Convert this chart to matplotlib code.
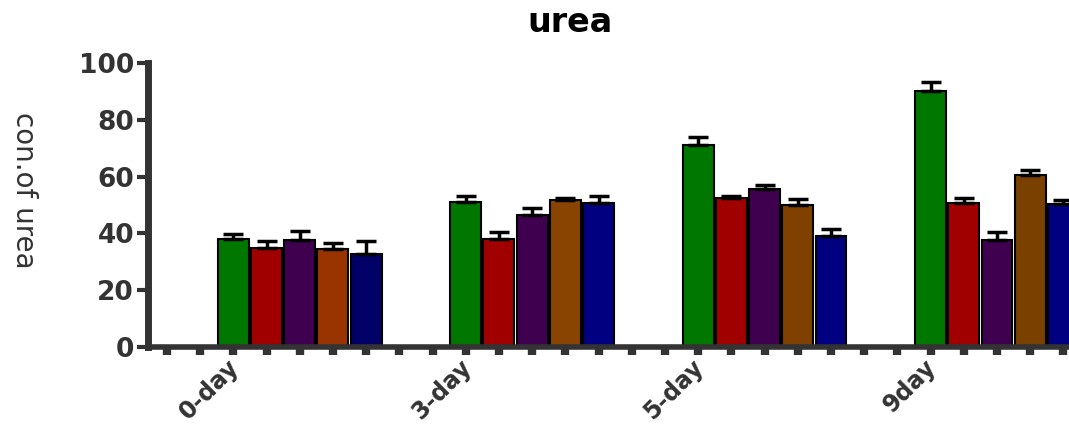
import numpy as np
import matplotlib
matplotlib.use("Agg")
import matplotlib.pyplot as plt

# urea concentration per sampling day, five treatments per day
groups = ['0-day', '3-day', '5-day', '9day']
means = [
    [38.0, 51.0, 71.0, 90.2],   # green
    [34.9, 38.0, 52.3, 50.8],   # red
    [37.7, 46.5, 55.5, 37.6],   # purple
    [34.5, 51.8, 50.0, 60.5],   # orange
    [32.7, 50.8, 39.0, 50.5],   # blue
]
errs = [
    [1.8, 2.2, 3.0, 3.2],
    [2.4, 2.6, 0.8, 1.7],
    [3.3, 2.5, 1.4, 2.9],
    [2.0, 0.8, 2.0, 1.8],
    [4.6, 2.5, 2.5, 1.2],
]
colors = [
    ['#007800'] * 4,
    ['#a00000'] * 4,
    ['#400050'] * 4,
    ['#993300', '#884400', '#7f4000', '#7a4000'],
    ['#000066', '#000080', '#000080', '#000080'],
]
yticks = [0, 20, 40, 60, 80, 100]

axc = '#333333'
slots = 7  # two empty slots, then five bars per group

fig = plt.figure(figsize=(10.69, 4.26), dpi=100)
ax = fig.add_axes([148 / 1069, 79 / 426, (1069 - 148) / 1069, 284 / 426])

for s in range(len(means)):
    for g in range(len(groups)):
        x = slots * g + 2 + s
        ax.bar(x, means[s][g], width=0.93, color=colors[s][g], edgecolor='black',
               linewidth=1.5, zorder=2)
        ax.errorbar(x, means[s][g], yerr=[[0], [errs[s][g]]], fmt='none',
                    ecolor='black', elinewidth=2.5, capsize=7, capthick=2.5, zorder=3)

ax.set_xlim(-0.57, 27.17)
ax.set_ylim(0, 100)

for side in ['top', 'right']:
    ax.spines[side].set_visible(False)
ax.spines['left'].set_linewidth(5)
ax.spines['left'].set_color(axc)
ax.spines['bottom'].set_linewidth(4)
ax.spines['bottom'].set_color(axc)

ax.set_yticks(yticks)
ax.set_yticklabels([str(v) for v in yticks], fontsize=19, fontweight='heavy', color=axc)
ax.tick_params(axis='y', length=8, width=3, color=axc, pad=2)

ax.set_xticks(np.arange(slots * len(groups)))
ax.set_xticklabels([])
ax.tick_params(axis='x', which='major', length=6, width=6, color=axc)
ax.set_xticks([slots * g + 1.8 for g in range(len(groups))], minor=True)
ax.set_xticklabels(groups, minor=True, rotation=45, ha='right', va='top',
                   rotation_mode='anchor', fontsize=17, fontweight='heavy', color=axc)
ax.tick_params(axis='x', which='minor', length=0, pad=6)

ax.set_ylabel('con.of urea', fontsize=20, rotation=270, va='center', color=axc)
ax.yaxis.set_label_coords(-0.135, 0.55)

fig.text(570 / 1069, 1 - 22 / 426, 'urea', ha='center', va='center',
         fontsize=24, fontweight='heavy', color='black')

fig.savefig('out.png', dpi=100)
